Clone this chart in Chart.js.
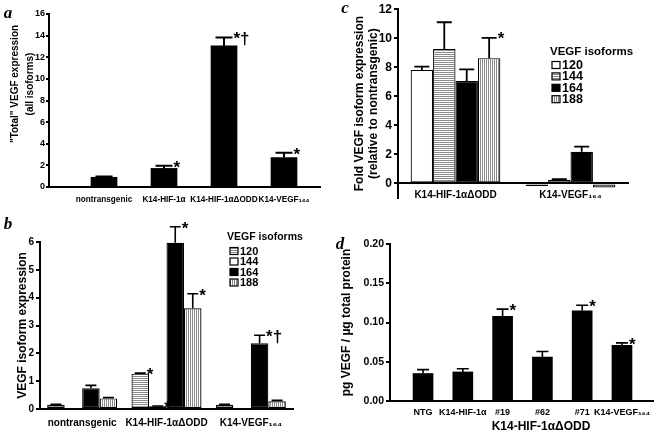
<!DOCTYPE html>
<html>
<head>
<meta charset="utf-8">
<title>VEGF expression</title>
<script src="https://cdn.jsdelivr.net/npm/chart.js@4.4.1/dist/chart.umd.min.js"></script>
<style>
  html, body { margin: 0; padding: 0; background: #fff; }
  #figure { position: relative; width: 657px; height: 431px; overflow: hidden; }
  #figure canvas { position: absolute; }
</style>
</head>
<body>
<div id="figure">
  <canvas id="panelA" width="330" height="210" style="left:0;top:0"></canvas>
  <canvas id="panelC" width="327" height="210" style="left:330px;top:0"></canvas>
  <canvas id="panelB" width="330" height="221" style="left:0;top:210px"></canvas>
  <canvas id="panelD" width="327" height="221" style="left:330px;top:210px"></canvas>
</div>
<script>
// ---- data ----
// a: total VEGF expression
const totalLabels = ['nontransgenic', 'K14-HIF-1α', 'K14-HIF-1αΔODD', 'K14-VEGF₁₆₄'];
const totalMeans = [0.9, 1.72, 13.05, 2.72];
const totalErrors = [0.08, 0.24, 0.78, 0.45];
const totalMarks = ['', '*', '*†', '*'];

// b: isoform expression
const isoforms = ['120', '144', '164', '188'];
const isoGroups = ['nontransgenic', 'K14-HIF-1αΔODD', 'K14-VEGF₁₆₄'];
const iso120 = [0.15, 1.27, 0.15];
const iso144 = [0, 0.1, 0];
const iso164 = [0.75, 5.97, 2.36];
const iso188 = [0.38, 3.62, 0.28];
const iso120Err = [0.02, 0.02, 0.02];
const iso144Err = [0, 0.01, 0];
const iso164Err = [0.1, 0.58, 0.29];
const iso188Err = [0.03, 0.52, 0.03];
const iso120Marks = ['', '*', ''];
const iso144Marks = ['', '*', ''];
const iso164Marks = ['', '*', '*†'];
const iso188Marks = ['', '*', ''];

// c: fold isoform expression relative to nontransgenic
const foldGroups = ['K14-HIF-1αΔODD', 'K14-VEGF₁₆₄'];
const fold120 = [7.82, -0.17];
const fold144 = [9.26, 0.25];
const fold164 = [7.06, 2.18];
const fold188 = [8.63, -0.27];
const fold120Err = [0.22, 0];
const fold144Err = [1.84, 0.04];
const fold164Err = [0.8, 0.36];
const fold188Err = [1.4, 0];
const fold188Marks = ['*', ''];

// d: VEGF protein (ELISA)
const elisaLabels = ['NTG', 'K14-HIF-1α', '#19', '#62', '#71', 'K14-VEGF₁₆₄'];
const elisaMeans = [0.035, 0.037, 0.108, 0.056, 0.115, 0.071];
const elisaErrors = [0.005, 0.004, 0.009, 0.007, 0.007, 0.003];
const elisaMarks = ['', '', '*', '', '*', '*'];

const yTicksA = { min: 0, max: 16, step: 2 };
const yTicksB = { min: 0, max: 6, step: 1 };
const yTicksC = { min: -1, max: 12, step: 2 };
const yTicksD = { min: 0, max: 0.2, step: 0.05 };

// ---- style ----
const FONT = '"Liberation Sans", Arial, Helvetica, sans-serif';
Chart.defaults.font.family = FONT;
Chart.defaults.font.weight = 'bold';
Chart.defaults.color = '#000';

function stripes(dir) {
  const c = document.createElement('canvas');
  c.width = 2; c.height = 2;
  const g = c.getContext('2d');
  g.fillStyle = '#fff'; g.fillRect(0, 0, 2, 2);
  g.fillStyle = '#8a8a8a';
  if (dir === 'h') g.fillRect(0, 0, 2, 1); else g.fillRect(0, 0, 1, 2);
  return g.createPattern(c, 'repeat');
}
const hStripe = stripes('h');
const vStripe = stripes('v');

// error bars (upper only) plus significance marks
const errorBars = {
  id: 'errorBars',
  afterDatasetsDraw(chart, args, opts) {
    const ctx = chart.ctx;
    const y = chart.scales.y;
    chart.data.datasets.forEach((ds, di) => {
      if (!ds.errors) return;
      chart.getDatasetMeta(di).data.forEach((bar, i) => {
        const raw = ds.data[i];
        const val = raw !== null && typeof raw === 'object' ? raw.y : raw;
        if (val == null) return;
        const err = ds.errors[i] || 0;
        const base = y.getPixelForValue(val);
        const top = y.getPixelForValue(val + err);
        ctx.save();
        ctx.strokeStyle = '#000';
        ctx.lineWidth = opts.lineWidth;
        if (err > 0) {
          ctx.beginPath();
          ctx.moveTo(bar.x, base);
          ctx.lineTo(bar.x, top);
          ctx.moveTo(bar.x - opts.cap / 2, top);
          ctx.lineTo(bar.x + opts.cap / 2, top);
          ctx.stroke();
        }
        const mark = ds.marks && ds.marks[i];
        if (mark) {
          ctx.fillStyle = '#000';
          ctx.font = opts.markFont;
          ctx.textAlign = 'left';
          ctx.textBaseline = 'alphabetic';
          ctx.fillText(mark, bar.x + opts.cap / 2 + 1, Math.min(top, base) + opts.markDy);
        }
        ctx.restore();
      });
    });
  }
};

// free text: panel letters, extra titles
const notes = {
  id: 'notes',
  afterDraw(chart, args, opts) {
    const ctx = chart.ctx;
    (opts.items || []).forEach(t => {
      ctx.save();
      ctx.fillStyle = '#000';
      ctx.font = t.font;
      ctx.textAlign = t.align || 'center';
      ctx.textBaseline = 'middle';
      ctx.translate(t.x, t.y);
      if (t.rotate) ctx.rotate(t.rotate);
      ctx.fillText(t.text, 0, 0);
      ctx.restore();
    });
  }
};

// boxed legend with a heading, Prism style
const isoLegend = {
  id: 'isoLegend',
  afterDraw(chart, args, opts) {
    if (!opts.title) return;
    const ctx = chart.ctx;
    ctx.save();
    ctx.textAlign = 'left';
    ctx.textBaseline = 'middle';
    ctx.fillStyle = '#000';
    ctx.font = opts.titleFont;
    ctx.fillText(opts.title, opts.x, opts.y);
    chart.data.datasets.forEach((ds, i) => {
      const yy = opts.y + opts.first + i * opts.step;
      const bx = opts.x + opts.boxDx;
      ctx.fillStyle = ds.backgroundColor;
      ctx.fillRect(bx, yy - opts.boxH / 2, opts.boxW, opts.boxH);
      ctx.strokeStyle = '#000';
      ctx.lineWidth = 1.2;
      ctx.strokeRect(bx, yy - opts.boxH / 2, opts.boxW, opts.boxH);
      ctx.fillStyle = '#000';
      ctx.font = opts.itemFont;
      ctx.fillText(ds.label, bx + opts.boxW + 2, yy + 0.5);
    });
    ctx.restore();
  }
};

function yAxis(t, o) {
  return {
    min: t.min, max: t.max,
    ticks: {
      stepSize: t.step, padding: o.tickPad || 2,
      font: { size: o.size, weight: 'bold' },
      callback: o.fmt || (v => v)
    },
    afterBuildTicks: s => { s.ticks = s.ticks.filter(k => k.value >= 0); },
    grid: { drawOnChartArea: false, drawTicks: true, tickLength: o.tickLen || 4, color: '#000', lineWidth: 2, tickWidth: 2 },
    border: { color: '#000', width: 2 },
    title: o.title ? {
      display: true, text: o.title, padding: { top: o.titlePad, bottom: 0 },
      font: { size: o.titleSize, weight: 'bold', lineHeight: o.lineHeight || 1.2 }
    } : { display: false },
    afterFit: s => { s.width = o.width; }
  };
}

function base(pad) {
  return {
    responsive: false,
    animation: false,
    events: [],
    layout: { padding: pad }
  };
}

const letterFont = 'bold italic 17px "Liberation Serif", "Times New Roman", serif';

// ---- a ----
new Chart(document.getElementById('panelA'), {
  type: 'bar',
  data: {
    datasets: [{
      label: 'Total VEGF',
      data: totalMeans.map((v, i) => ({ x: i, y: v })),
      errors: totalErrors,
      marks: totalMarks,
      backgroundColor: '#000', borderColor: '#000', borderWidth: 0,
      barThickness: 26
    }]
  },
  options: {
    ...base({ top: 14, right: 10, bottom: 0, left: 0 }),
    scales: {
      x: {
        type: 'linear', min: -0.917, max: 3.6, offset: false,
        grid: { display: false, drawTicks: false },
        border: { color: '#000', width: 2 },
        afterBuildTicks: s => { s.ticks = totalLabels.map((_, i) => ({ value: i })); },
        ticks: { callback: v => totalLabels[v], font: { size: 8.2, weight: 'bold' }, padding: 8, maxRotation: 0, autoSkip: false },
        afterFit: s => { s.height = 23; }
      },
      y: yAxis(yTicksA, { size: 9, width: 49, tickPad: 1, tickLen: 3 })
    },
    plugins: {
      legend: { display: false }, tooltip: { enabled: false },
      errorBars: { lineWidth: 2, cap: 17, markFont: 'bold 17px ' + FONT, markDy: 7 },
      notes: { items: [
        { text: 'a', x: 8, y: 14, font: letterFont },
        { text: '"Total" VEGF expression', x: 15, y: 84, rotate: -Math.PI / 2, font: 'bold 10px ' + FONT },
        { text: '(all isoforms)', x: 30, y: 84, rotate: -Math.PI / 2, font: 'bold 10px ' + FONT }
      ] }
    }
  },
  plugins: [errorBars, notes]
});

// ---- b ----
new Chart(document.getElementById('panelB'), {
  type: 'bar',
  data: {
    labels: isoGroups,
    datasets: [
      { label: isoforms[0], data: iso120, errors: iso120Err, marks: iso120Marks, backgroundColor: hStripe },
      { label: isoforms[1], data: iso144, errors: iso144Err, marks: iso144Marks, backgroundColor: '#fff' },
      { label: isoforms[2], data: iso164, errors: iso164Err, marks: iso164Marks, backgroundColor: '#000' },
      { label: isoforms[3], data: iso188, errors: iso188Err, marks: iso188Marks, backgroundColor: vStripe }
    ].map(d => ({ ...d, borderColor: '#000', borderWidth: 1.2, borderSkipped: false }))
  },
  options: {
    ...base({ top: 32, right: 37, bottom: 0, left: 0 }),
    datasets: { bar: { categoryPercentage: 0.83, barPercentage: 1 } },
    scales: {
      x: {
        grid: { display: false, drawTicks: false },
        border: { color: '#000', width: 2 },
        ticks: { font: { size: 10, weight: 'bold' }, padding: 8, maxRotation: 0, autoSkip: false },
        afterFit: s => { s.height = 22; }
      },
      y: yAxis(yTicksB, { size: 10, width: 40, title: 'VEGF isoform expression', titleSize: 12, titlePad: 15 })
    },
    plugins: {
      legend: { display: false }, tooltip: { enabled: false },
      errorBars: { lineWidth: 1.6, cap: 11, markFont: 'bold 17px ' + FONT, markDy: 7 },
      isoLegend: { title: 'VEGF isoforms', x: 227, y: 27, first: 14, step: 10.5, boxDx: 3, boxW: 8, boxH: 7,
        titleFont: 'bold 10.5px ' + FONT, itemFont: 'bold 11px ' + FONT },
      notes: { items: [{ text: 'b', x: 8, y: 15, font: letterFont }] }
    }
  },
  plugins: [errorBars, isoLegend, notes]
});

// ---- c ----
new Chart(document.getElementById('panelC'), {
  type: 'bar',
  data: {
    labels: foldGroups,
    datasets: [
      { label: isoforms[0], data: fold120, errors: fold120Err, backgroundColor: '#fff' },
      { label: isoforms[1], data: fold144, errors: fold144Err, backgroundColor: hStripe },
      { label: isoforms[2], data: fold164, errors: fold164Err, backgroundColor: '#000' },
      { label: isoforms[3], data: fold188, errors: fold188Err, marks: fold188Marks, backgroundColor: vStripe }
    ].map(d => ({ ...d, borderColor: '#000', borderWidth: 1.2, borderSkipped: false }))
  },
  options: {
    ...base({ top: 5, right: 29, bottom: 12, left: 0 }),
    datasets: { bar: { categoryPercentage: 0.78, barPercentage: 1 } },
    scales: {
      x: {
        position: { y: 0 },
        grid: { display: false, drawTicks: false },
        border: { color: '#000', width: 2 },
        ticks: { font: { size: 10, weight: 'bold' }, padding: 6, maxRotation: 0, autoSkip: false }
      },
      y: yAxis(yTicksC, { size: 12, width: 68, title: ['Fold VEGF isoform expression', '(relative to nontransgenic)'],
        titleSize: 12, titlePad: 23, lineHeight: 1.17 })
    },
    plugins: {
      legend: { display: false }, tooltip: { enabled: false },
      errorBars: { lineWidth: 1.8, cap: 15, markFont: 'bold 17px ' + FONT, markDy: 6 },
      isoLegend: { title: 'VEGF isoforms', x: 220, y: 52, first: 13, step: 11.4, boxDx: 2, boxW: 8, boxH: 7,
        titleFont: 'bold 11.5px ' + FONT, itemFont: 'bold 12.5px ' + FONT },
      notes: { items: [{ text: 'c', x: 15, y: 9, font: letterFont }] }
    }
  },
  plugins: [errorBars, isoLegend, notes]
});

// ---- d ----
new Chart(document.getElementById('panelD'), {
  type: 'bar',
  data: {
    datasets: [{
      label: 'VEGF protein',
      data: elisaMeans.map((v, i) => ({ x: i, y: v })),
      errors: elisaErrors,
      marks: elisaMarks,
      backgroundColor: '#000', borderColor: '#000', borderWidth: 0,
      barThickness: 20
    }]
  },
  options: {
    ...base({ top: 34, right: 4, bottom: 0, left: 0 }),
    scales: {
      x: {
        type: 'linear', min: -0.83, max: 5.78, offset: false,
        grid: { display: false, drawTicks: false },
        border: { color: '#000', width: 2 },
        afterBuildTicks: s => { s.ticks = elisaLabels.map((_, i) => ({ value: i })); },
        ticks: { callback: v => elisaLabels[v], font: { size: 9, weight: 'bold' }, padding: 6, maxRotation: 0, autoSkip: false },
        afterFit: s => { s.height = 30; }
      },
      y: yAxis(yTicksD, { size: 10.5, width: 60, fmt: v => v.toFixed(2),
        title: 'pg VEGF / µg total protein', titleSize: 12, titlePad: 9 })
    },
    plugins: {
      legend: { display: false }, tooltip: { enabled: false },
      errorBars: { lineWidth: 1.6, cap: 12, markFont: 'bold 17px ' + FONT, markDy: 7 },
      notes: { items: [
        { text: 'd', x: 10, y: 35, font: letterFont },
        { text: 'K14-HIF-1αΔODD', x: 211, y: 217, font: 'bold 12px ' + FONT }
      ] }
    }
  },
  plugins: [errorBars, notes]
});
</script>
</body>
</html>
